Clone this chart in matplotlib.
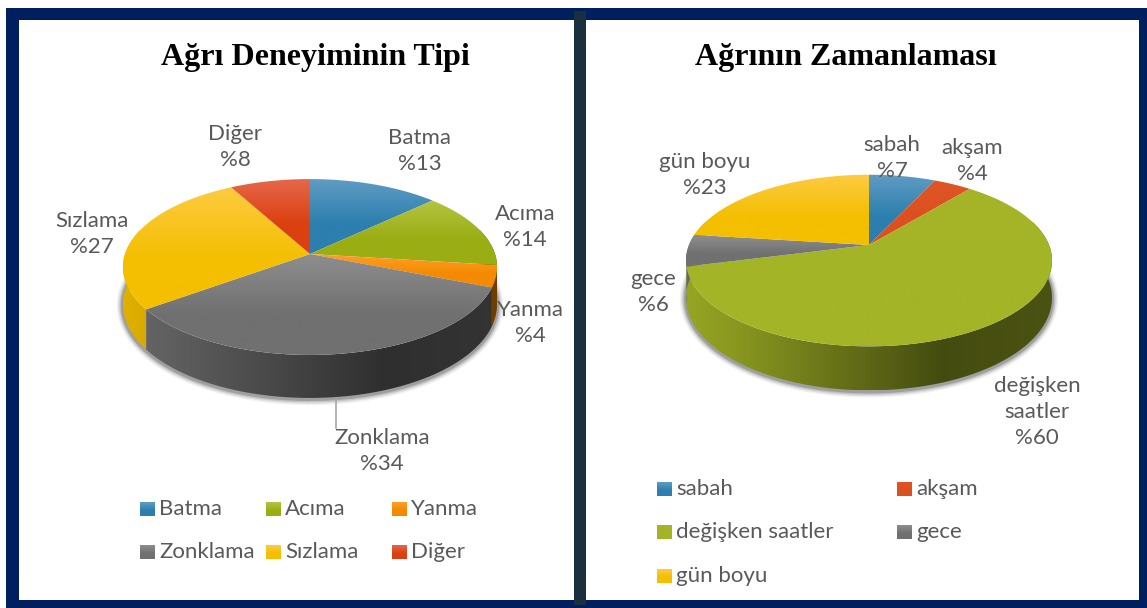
import numpy as np
import matplotlib
matplotlib.use('Agg')
import matplotlib.pyplot as plt
from matplotlib.colors import to_rgb
from matplotlib.patches import Polygon, Rectangle

# Data
pain_types = ['Batma', 'Acıma', 'Yanma', 'Zonklama', 'Sızlama', 'Diğer']
pain_values = [13, 14, 4, 34, 27, 8]
timing_names = ['sabah', 'akşam', 'değişken saatler', 'gece', 'gün boyu']
timing_values = [7, 4, 60, 6, 23]

# Wedge gradients, top colour then bottom colour
blue = ('#5f9cc3', '#2c7fae')
green = ('#b4c440', '#9aae14')
orange = ('#ffa02c', '#f48a00')
grey = ('#8e8e8e', '#707070')
yellow = ('#fdcb42', '#f4bf00')
red = ('#e5674a', '#db4010')
flat_red = ('#e05526', '#dc5020')
flat_green = ('#a5b527', '#a3b426')
pain_colors = [blue, green, orange, grey, yellow, red]
timing_colors = [blue, flat_red, flat_green, grey, yellow]

NAVY = '#001f5f'
TEXT = '#595959'
FONT = ['Lato', 'DejaVu Sans']

fig = plt.figure(figsize=(11.47, 6.08), dpi=100)
ax = fig.add_axes([0, 0, 1, 1])
ax.set_xlim(0, 1147)
ax.set_ylim(608, 0)
ax.axis('off')


def project(theta, cx, cy, a, b, k):
    # perspective view of a flat disc, theta clockwise from 12 o'clock
    w = 1 + k * np.cos(theta)
    return cx + a * np.sin(theta) / w, cy - b * np.cos(theta) / w


def gradient_fill(poly, top, bottom, zorder):
    xs, ys = poly.get_xy().T
    c0, c1 = np.array(to_rgb(top)), np.array(to_rgb(bottom))
    # lighter colour fades out over the upper part of the shape
    t = np.clip(np.linspace(0, 1, 128) / 0.6, 0, 1)[:, None, None]
    img = c0[None, None, :] * (1 - t) + c1[None, None, :] * t
    ax.add_patch(poly)
    im = ax.imshow(img, extent=(xs.min(), xs.max(), ys.max(), ys.min()),
                   aspect='auto', zorder=zorder, interpolation='bilinear')
    im.set_clip_path(poly)


def draw_pie(values, colors, cx, cy, a, b, k, depth):
    edges = np.cumsum([0] + list(values)) / sum(values) * 2 * np.pi
    half = a / np.sqrt(1 - k ** 2)

    # soft shadow under the front edge
    t = np.linspace(np.pi / 2 - 0.15, 3 * np.pi / 2 + 0.15, 200)
    sx, sy = project(t, cx, cy, a, b, k)
    sy = sy + depth * (1 - k) / (1 + k * np.cos(t)) + 1
    for lw, al in zip([9, 7, 5, 3], [0.05, 0.08, 0.12, 0.18]):
        ax.plot(sx, sy, color='black', alpha=al, lw=lw, zorder=1,
                solid_capstyle='round')

    # side wall, one clipped horizontal gradient per wedge
    front0, front1 = np.pi / 2 - 0.3, 3 * np.pi / 2 + 0.3
    for i in range(len(values)):
        lo, hi = max(edges[i], front0), min(edges[i + 1], front1)
        if hi <= lo:
            continue
        th = np.linspace(lo, hi, 150)
        x, y = project(th, cx, cy, a, b, k)
        d = depth * (1 - k) / (1 + k * np.cos(th))
        pts = np.column_stack([np.r_[x, x[::-1]], np.r_[y, (y + d)[::-1]]])
        wall = Polygon(pts, closed=True, fc='none', ec='none', zorder=2)
        ax.add_patch(wall)
        gx = np.linspace(x.min(), x.max(), 256)
        shade = np.interp((gx - cx) / half, [-1, -0.75, 0.4, 1], [0.92, 0.85, 0.42, 0.46])
        img = np.array(to_rgb(colors[i][1]))[None, None, :] * shade[None, :, None]
        im = ax.imshow(img, extent=(x.min(), x.max(), (y + d).max(), y.min()),
                       aspect='auto', zorder=2, interpolation='bilinear')
        im.set_clip_path(wall)

    # top face
    for i in range(len(values)):
        th = np.linspace(edges[i], edges[i + 1], 120)
        x, y = project(th, cx, cy, a, b, k)
        pts = np.column_stack([np.r_[cx, x], np.r_[cy, y]])
        poly = Polygon(pts, closed=True, fc='none', ec='none', zorder=3)
        gradient_fill(poly, colors[i][0], colors[i][1], 3)


def swatch(x, y, colors):
    r = Polygon([(x, y - 7), (x + 15, y - 7), (x + 15, y + 7), (x, y + 7)],
                closed=True, fc='none', ec='none', zorder=5)
    gradient_fill(r, colors[0], colors[1], 5)


# frame
ax.add_patch(Rectangle((6, 8), 1141, 600, fc=NAVY, ec='none', zorder=0))
ax.add_patch(Rectangle((19, 20), 1120, 580, fc='white', ec='none', zorder=0))
ax.add_patch(Rectangle((574, 11), 12, 594, fc='#1a3040', ec='none', zorder=0.5))

# pies
draw_pie(pain_values, pain_colors, 310, 254, 185, 86, 0.148, 43)
draw_pie(timing_values, timing_colors, 869, 245, 180, 83, 0.181, 44)

# titles
ax.text(315, 57, 'Ağrı Deneyiminin Tipi', family='Liberation Serif', weight='bold',
        fontsize=23, ha='center', va='center', color='black', zorder=6)
ax.text(846, 57, 'Ağrının Zamanlaması', family='Liberation Serif', weight='bold',
        fontsize=23, ha='center', va='center', color='black', zorder=6)

# data labels
pain_label_pos = [(420, 151), (525, 227), (530, 323), (382, 451), (92, 234), (235, 147)]
timing_label_pos = [(892, 158), (972, 161), (1037, 412), (653, 292), (705, 175)]
for name, val, (x, y) in zip(pain_types, pain_values, pain_label_pos):
    ax.text(x, y, f'{name}\n%{val}', family=FONT, fontsize=16, color=TEXT, ha='center',
            va='center', linespacing=1.36, zorder=6)
for name, val, (x, y) in zip(timing_names, timing_values, timing_label_pos):
    label = name.replace(' ', '\n') if len(name) > 10 else name
    ax.text(x, y, f'{label}\n%{val}', family=FONT, fontsize=16,
            color=TEXT, ha='center', va='center', linespacing=1.36, zorder=6)

# leader line for Zonklama
ax.plot([336, 336], [398, 428], color='#a6a6a6', lw=1.2, zorder=1.5)

# legends
pain_legend_pos = [(140, 509), (266, 509), (392, 509), (140, 552), (266, 552), (392, 552)]
timing_legend_pos = [(657, 489), (897, 489), (657, 532), (897, 532), (657, 576)]
for name, cols, (x, y) in zip(pain_types + timing_names, pain_colors + timing_colors,
                              pain_legend_pos + timing_legend_pos):
    swatch(x, y, cols)
    ax.text(x + 19, y, name, family=FONT, fontsize=16, color=TEXT, ha='left',
            va='center', zorder=6)

ax.set_xlim(0, 1147)
ax.set_ylim(608, 0)
fig.savefig('out.png', dpi=100, facecolor='white')
